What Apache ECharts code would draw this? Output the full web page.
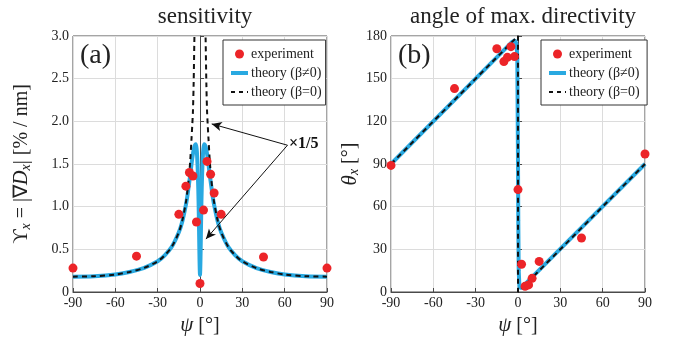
<!DOCTYPE html>
<html>
<head>
<meta charset="utf-8">
<script src="https://cdn.jsdelivr.net/npm/echarts@6/dist/echarts.min.js"></script>
<style>
  html, body { margin: 0; padding: 0; background: #fff; }
  #chart { width: 688px; height: 348px; }
</style>
</head>
<body>
<div id="chart"></div>
<script>
// ---- data ----
const sensTickLabels = ["0", "0.5", "1.0", "1.5", "2.0", "2.5", "3.0"];
const angleTickLabels = ["0", "30", "60", "90", "120", "150", "180"];

// (a) sensitivity
const psiExp = [-90, -45, -15, -10, -7.5, -5, -2.5, 0, 2.5, 5, 7.5, 10, 15, 45, 90];
const sensExp = [0.28, 0.42, 0.91, 1.24, 1.40, 1.36, 0.82, 0.10, 0.96, 1.53, 1.38, 1.16, 0.91, 0.41, 0.28];

const psiSensB0 = [-90, -75, -60, -50, -40, -30, -25, -20, -15, -12.5, -10, -9, -8, -7, -6, -5.5, -5, -4.5, -4, -3.6, 0,
  3.6, 4, 4.5, 5, 5.5, 6, 7, 8, 9, 10, 12.5, 15, 20, 25, 30, 40, 50, 60, 75, 90];
const sensB0 = [0.18, 0.185, 0.205, 0.235, 0.28, 0.36, 0.43, 0.53, 0.70, 0.84, 1.05, 1.17, 1.32, 1.52, 1.80, 1.95, 2.12, 2.45, 2.95, 3.3, null,
  3.3, 2.95, 2.45, 2.12, 1.95, 1.80, 1.52, 1.32, 1.17, 1.05, 0.84, 0.70, 0.53, 0.43, 0.36, 0.28, 0.235, 0.205, 0.185, 0.18];

const psiSensB = [-90, -75, -60, -50, -40, -30, -25, -20, -15, -12.5, -10, -9, -8, -7, -6, -5, -4, -3, -2.4, -2, -1.5, -1, -0.6, -0.3, 0,
  0.3, 0.6, 1, 1.5, 2, 2.4, 3, 4, 5, 6, 7, 8, 9, 10, 12.5, 15, 20, 25, 30, 40, 50, 60, 75, 90];
const sensB = [0.18, 0.185, 0.205, 0.235, 0.28, 0.36, 0.43, 0.53, 0.70, 0.83, 1.02, 1.12, 1.24, 1.36, 1.50, 1.62, 1.70, 1.73, 1.68, 1.58, 1.38, 1.05, 0.65, 0.35, 0.2,
  0.35, 0.65, 1.05, 1.38, 1.58, 1.68, 1.73, 1.70, 1.62, 1.50, 1.36, 1.24, 1.12, 1.02, 0.83, 0.70, 0.53, 0.43, 0.36, 0.28, 0.235, 0.205, 0.185, 0.18];

// (b) angle of max. directivity
const angleExp = [89, 143, 171, 162, 165, 172.5, 165.5, 72, 19.5, 4, 5, 9.6, 21.5, 38, 97];

const psiAngleB0 = [-90, -0.01, 0, 0.01, 90];
const angleB0 = [90, 179.99, 90, 0.01, 90];

const psiAngleB = [-90, -4, -2, -1, -0.5, -0.2, 0, 0.2, 0.5, 1, 1.5, 2.5, 4, 90];
const angleB = [90, 176, 177, 174, 165, 120, 90, 50, 15, 4, 2.5, 3, 4.5, 90];

const zip = (xs, ys) => xs.map((x, i) => [x, ys[i]]);

// ---- chart ----
const chart = echarts.init(document.getElementById("chart"));

const FONT = "Liberation Serif";
const RED = "#ec2428";
const BLUE = "#29a9e1";
const FRAME = "#4a4a4a";

function xAxisFor(gridIndex) {
  return {
    type: "value",
    gridIndex,
    min: -90,
    max: 90,
    interval: 30,
    name: "{i|ψ} [°]",
    nameLocation: "middle",
    nameGap: 22,
    nameTextStyle: {
      fontFamily: FONT, fontSize: 20, color: "#222",
      rich: { i: { fontFamily: FONT, fontSize: 21, fontStyle: "italic", color: "#222" } },
    },
    axisLine: { show: true, onZero: false, lineStyle: { color: FRAME, width: 1 } },
    axisTick: { show: true, inside: true, length: 4, lineStyle: { color: FRAME } },
    axisLabel: { fontFamily: FONT, fontSize: 14, color: "#222", margin: 4 },
    splitLine: { show: true, lineStyle: { color: "#dcdcdc", width: 1 } },
  };
}

function legendFor(left, names) {
  return {
    left, top: 40, orient: "vertical", itemGap: 5, itemWidth: 17, itemHeight: 9,
    padding: [7, 4, 6, 6], backgroundColor: "#fff", borderColor: "#333", borderWidth: 1,
    textStyle: { fontFamily: FONT, fontSize: 14, color: "#222", padding: [0, 0, 0, -2] },
    data: [
      { name: names[0], icon: "circle", itemStyle: { color: RED, opacity: 1 } },
      { name: names[1], itemStyle: { opacity: 0 }, lineStyle: { width: 4, color: BLUE } },
      { name: names[2], itemStyle: { opacity: 0 }, lineStyle: { width: 2, color: "#111", type: [4, 4] } },
    ],
  };
}

const option = {
  animation: false,
  backgroundColor: "#fff",
  title: [
    { text: "sensitivity", left: 200, top: 0, textAlign: "center",
      textStyle: { fontFamily: FONT, fontSize: 23, fontWeight: "normal", color: "#222" } },
    { text: "angle of max. directivity", left: 518, top: 0, textAlign: "center",
      textStyle: { fontFamily: FONT, fontSize: 23, fontWeight: "normal", color: "#222" } },
  ],
  grid: [
    { left: 73, top: 36, width: 254, height: 256, show: true, borderColor: FRAME, borderWidth: 1, backgroundColor: "transparent" },
    { left: 391, top: 36, width: 254, height: 256, show: true, borderColor: FRAME, borderWidth: 1, backgroundColor: "transparent" },
  ],
  legend: [
    legendFor(223, ["experiment", "theory (β≠0)", "theory (β=0)"]),
    legendFor(541, ["experiment ", "theory (β≠0) ", "theory (β=0) "]),
  ],
  xAxis: [xAxisFor(0), xAxisFor(1)],
  yAxis: [
    {
      type: "value", gridIndex: 0, min: 0, max: 3, interval: 0.5,
      name: "ϒ{sub|x} = |∇{i|D}{sub|x}| [% / nm]",
      nameLocation: "middle", nameGap: 40,
      nameTextStyle: {
        fontFamily: FONT, fontSize: 20, color: "#222",
        rich: {
          i: { fontFamily: FONT, fontSize: 20, fontStyle: "italic", color: "#222" },
          sub: { fontFamily: FONT, fontSize: 14, fontStyle: "italic", color: "#222", padding: [8, 0, 0, 0] },
        },
      },
      axisLine: { show: true, lineStyle: { color: FRAME, width: 1 } },
      axisTick: { show: true, inside: true, length: 4, lineStyle: { color: FRAME } },
      axisLabel: { fontFamily: FONT, fontSize: 14, color: "#222", margin: 4,
        formatter: (v) => sensTickLabels[Math.round(v / 0.5)] },
      splitLine: { show: true, lineStyle: { color: "#dcdcdc", width: 1 } },
    },
    {
      type: "value", gridIndex: 1, min: 0, max: 180, interval: 30,
      name: "{i|θ}{sub|x} [°]",
      nameLocation: "middle", nameGap: 30,
      nameTextStyle: {
        fontFamily: FONT, fontSize: 20, color: "#222",
        rich: {
          i: { fontFamily: FONT, fontSize: 21, fontStyle: "italic", color: "#222" },
          sub: { fontFamily: FONT, fontSize: 14, fontStyle: "italic", color: "#222", padding: [8, 0, 0, 0] },
        },
      },
      axisLine: { show: true, lineStyle: { color: FRAME, width: 1 } },
      axisTick: { show: true, inside: true, length: 4, lineStyle: { color: FRAME } },
      axisLabel: { fontFamily: FONT, fontSize: 14, color: "#222", margin: 4,
        formatter: (v) => angleTickLabels[Math.round(v / 30)] },
      splitLine: { show: true, lineStyle: { color: "#dcdcdc", width: 1 } },
    },
  ],
  series: [
    // (a)
    {
      name: "theory (β≠0)", type: "line", xAxisIndex: 0, yAxisIndex: 0,
      data: zip(psiSensB, sensB), showSymbol: false, symbol: "none", smooth: 0.3,
      lineStyle: { color: BLUE, width: 4 }, itemStyle: { color: BLUE }, z: 2,
    },
    {
      name: "theory (β=0)", type: "line", xAxisIndex: 0, yAxisIndex: 0,
      data: zip(psiSensB0, sensB0), showSymbol: false, symbol: "none", smooth: 0.3, connectNulls: false,
      lineStyle: { color: "#111", width: 2, type: [5, 4] }, itemStyle: { color: "#111" }, z: 3,
      markLine: {
        silent: true, symbol: ["none", "arrow"], symbolSize: [7, 10],
        lineStyle: { color: "#111", width: 1, type: "solid" }, label: { show: false },
        data: [
          [{ coord: [62, 1.72] }, { coord: [8.3, 1.97] }],
          [{ coord: [62, 1.72] }, { coord: [4.2, 0.62] }],
        ],
      },
    },
    {
      name: "experiment", type: "scatter", xAxisIndex: 0, yAxisIndex: 0,
      data: zip(psiExp, sensExp), symbol: "circle", symbolSize: 9,
      itemStyle: { color: RED, opacity: 1 }, z: 4,
    },
    // (b)
    {
      name: "theory (β≠0) ", type: "line", xAxisIndex: 1, yAxisIndex: 1,
      data: zip(psiAngleB, angleB), showSymbol: false, symbol: "none",
      lineStyle: { color: BLUE, width: 4 }, itemStyle: { color: BLUE }, z: 2,
    },
    {
      name: "theory (β=0) ", type: "line", xAxisIndex: 1, yAxisIndex: 1,
      data: zip(psiAngleB0, angleB0), showSymbol: false, symbol: "none",
      lineStyle: { color: "#111", width: 2, type: [5, 4] }, itemStyle: { color: "#111" }, z: 3,
    },
    {
      name: "experiment ", type: "scatter", xAxisIndex: 1, yAxisIndex: 1,
      data: zip(psiExp, angleExp), symbol: "circle", symbolSize: 9,
      itemStyle: { color: RED, opacity: 1 }, z: 4,
    },
  ],
  graphic: [
    { type: "text", left: 80, top: 42, style: { text: "(a)", font: "28px 'Liberation Serif'", fill: "#222" } },
    { type: "text", left: 398, top: 42, style: { text: "(b)", font: "28px 'Liberation Serif'", fill: "#222" } },
    { type: "text", left: 289, top: 136, style: { text: "×1/5", font: "bold 16px 'Liberation Serif'", fill: "#111" } },
  ],
};

chart.setOption(option);
</script>
</body>
</html>
